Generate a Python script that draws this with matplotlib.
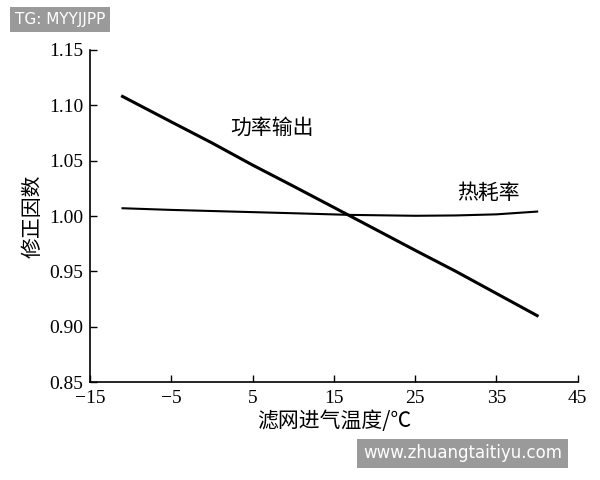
import matplotlib
matplotlib.use('Agg')
import matplotlib.pyplot as plt

# data
temp = [-11, -5, 0, 5, 10, 17, 25, 30, 35, 40]
power = [1.108, 1.085, 1.066, 1.046, 1.027, 1.000, 0.969, 0.950, 0.930, 0.910]
heat_rate = [1.007, 1.0055, 1.0045, 1.0035, 1.0025, 1.001, 1.0002, 1.0005, 1.0015, 1.004]

xticks = [-15, -5, 5, 15, 25, 35, 45]
yticks = [0.85, 0.90, 0.95, 1.00, 1.05, 1.10, 1.15]

cjk = ['Noto Sans CJK SC', 'DejaVu Sans']
num = ['Liberation Serif', 'DejaVu Serif']

fig = plt.figure(figsize=(6, 4.8), dpi=100)
ax = fig.add_axes([0.15, 0.204, 0.813, 0.692])

ax.plot(temp, power, color='black', lw=2.2)
ax.plot(temp, heat_rate, color='black', lw=1.5)

ax.set_xlim(-15, 45)
ax.set_ylim(0.85, 1.15)
ax.set_xticks(xticks)
ax.set_yticks(yticks)
ax.set_xticklabels([str(t).replace('-', '\u2212') for t in xticks], family=num, fontsize=14)
ax.set_yticklabels([f'{v:.2f}' for v in yticks], family=num, fontsize=14)
ax.tick_params(direction='in', length=5, width=1)
ax.tick_params(axis='x', pad=6)
ax.tick_params(axis='y', pad=5)
for s in ['top', 'right']:
    ax.spines[s].set_visible(False)
for s in ['left', 'bottom']:
    ax.spines[s].set_linewidth(1.2)

ax.set_xlabel('滤网进气温度/℃', family=cjk, fontsize=15, labelpad=2)
ax.set_ylabel('修正因数', family=cjk, fontsize=15)

ax.text(7.4, 1.08, '功率输出', family=cjk, fontsize=15, ha='center', va='center')
ax.text(34, 1.021, '热耗率', family=cjk, fontsize=15, ha='center', va='center')

fig.text(0.025, 0.95, 'TG: MYYJJPP', color='white', fontsize=11,
         bbox=dict(boxstyle='square,pad=0.3', facecolor='#9a9a9a', edgecolor='none'))
fig.text(0.605, 0.045, 'www.zhuangtaitiyu.com', color='white', fontsize=12,
         bbox=dict(boxstyle='square,pad=0.35', facecolor='#9a9a9a', edgecolor='none'))

fig.savefig('out.png', dpi=100)
